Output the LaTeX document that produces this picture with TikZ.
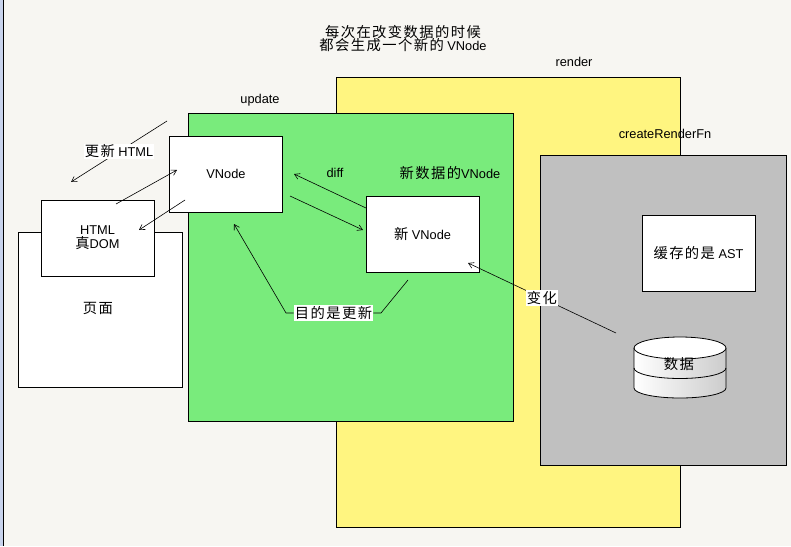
\documentclass[tikz,border=0pt]{standalone}
\usepackage{fontspec}
\setmainfont{Liberation Sans}
\newfontfamily\cjk{Noto Sans CJK SC}[LetterSpace=10]
\usetikzlibrary{arrows.meta}
\definecolor{bgc}{HTML}{F7F6F2}
\definecolor{barc}{HTML}{C8D3EC}
\definecolor{yel}{HTML}{FFF580}
\definecolor{grn}{HTML}{79EB7C}
\definecolor{gry}{HTML}{C0C0C0}
\tikzset{
  region/.style={draw=black, line width=1pt},
  wbox/.style={draw=black, line width=1pt, fill=white, minimum width=113pt, minimum height=76pt, inner sep=0pt},
  lab/.style={inner sep=0pt, font=\fontsize{12.8}{15}\selectfont},
  wlab/.style={fill=white, inner sep=1pt, font=\fontsize{12.8}{15}\selectfont},
  conn/.style={line width=0.6pt},
  arr/.style={line width=0.6pt, -{Straight Barb[length=5pt,width=6pt]}}
}
\newcommand{\zh}[1]{{\cjk\fontsize{14.3}{16}\selectfont #1}}
\begin{document}
\begin{tikzpicture}[x=1pt,y=-1pt]
\useasboundingbox (0,0) rectangle (791,546);
\fill[bgc] (0,0) rectangle (791,546);
\fill[barc] (0,0) rectangle (3,546);
\draw[black, line width=1pt] (3.5,0) -- (3.5,546);

% regions
\draw[region, fill=yel] (336,77) rectangle (680,527);
\draw[region, fill=grn] (188,113) rectangle (513,421);
\draw[region, fill=gry] (540,155) rectangle (786,465);
\draw[region, fill=white] (18,232) rectangle (182,387);

% region labels
\node[lab, align=center] (title) at (403,38.5) {\zh{每次在改变数据的时候}\\[-2pt]\zh{都会生成一个新的} VNode};
\node[lab] (update) at (260,100) {update};
\node[lab] (render) at (574,62) {render};
\node[lab] (crf) at (665,134) {createRenderFn};
\node[lab] (xsj) at (450,173) {\zh{新数据的}VNode};
\node[lab] (diff) at (335,173) {diff};
\node[lab] (page) at (98,308) {\zh{页面}};

% boxes
\node[wbox] (html) at (97.5,238) {};
\node[lab, align=center] at (html.center) {HTML\\[-1pt]\zh{真}DOM};
\node[wbox] (vnode) at (226,174) {};
\node[lab] at (vnode.center) {VNode};
\node[wbox] (newv) at (422.5,234) {};
\node[lab] at (newv.center) {\zh{新} VNode};
\node[wbox] (ast) at (698.5,253) {};
\node[lab] at (ast.center) {\zh{缓存的是} AST};

% cylinder
\shade[left color=white, right color=gray!40] (634,348) -- (634,388) arc[start angle=180, end angle=360, x radius=46pt, y radius=10pt] -- (726,348) -- cycle;
\draw[line width=0.8pt] (634,348) -- (634,388) arc[start angle=180, end angle=360, x radius=46pt, y radius=10pt] -- (726,348);
\draw[line width=0.8pt] (634,368) arc[start angle=180, end angle=360, x radius=46pt, y radius=10.5pt];
\draw[line width=0.8pt, fill=white] (680,348) ellipse[x radius=46pt, y radius=11pt];
\node[lab] (data) at (679,364) {\zh{数据}};

% connector end points
\coordinate (uh1) at (167,121);
\coordinate (uh2) at (71,182);
\coordinate (hv1) at (116,204);
\coordinate (hv2) at (177,170);
\coordinate (vh1) at (185,200);
\coordinate (vh2) at (139,230);
\coordinate (d1a) at (366,208);
\coordinate (d1b) at (294,174);
\coordinate (d2a) at (290,196);
\coordinate (d2b) at (363,230);
\coordinate (mA) at (234,224);
\coordinate (mB) at (286,313);
\coordinate (mC) at (381,313);
\coordinate (mD) at (408,280);
\coordinate (bh1) at (616,333);
\coordinate (bh2) at (468,263);

% 更新 HTML
\draw[arr] (uh1) -- (uh2);
\node[wlab] (uhl) at (119,151.5) {\zh{更新} HTML};

% VNode <-> HTML
\draw[arr] (hv1) -- (hv2);
\draw[arr] (vh1) -- (vh2);

% diff
\draw[arr] (d1a) -- (d1b);
\draw[arr] (d2a) -- (d2b);

% 目的是更新
\node[wlab] (goal) at (333.5,313) {\zh{目的是更新}};
\draw[arr] (goal.west) -- (mB) -- (mA);
\draw[conn] (goal.east) -- (mC) -- (mD);

% 变化
\draw[arr] (bh1) -- (bh2);
\node[wlab] (chg) at (542,298) {\zh{变化}};
\end{tikzpicture}
\end{document}
